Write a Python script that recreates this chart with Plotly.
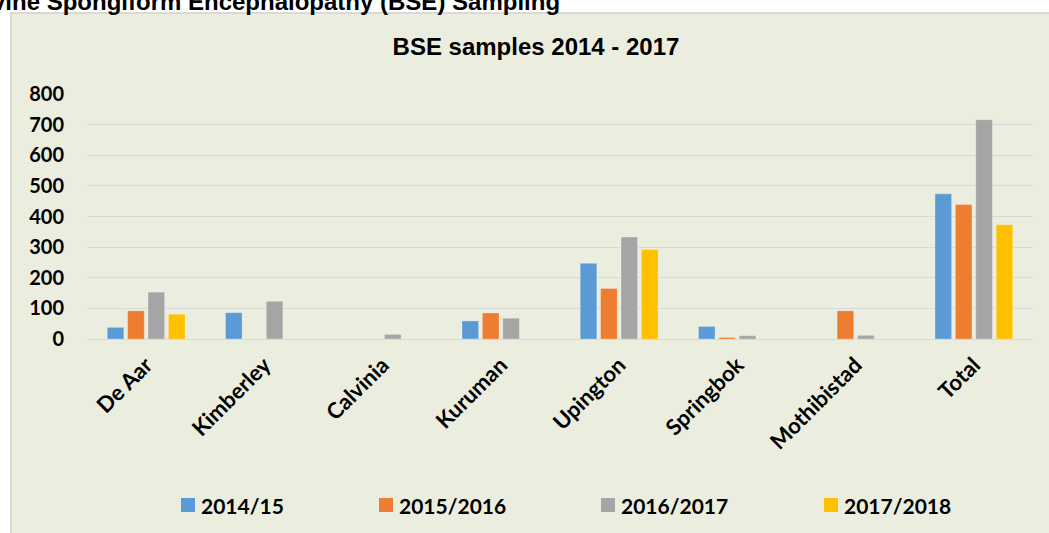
import plotly.graph_objects as go

# ---- data ----
categories = ["De Aar", "Kimberley", "Calvinia", "Kuruman", "Upington",
              "Springbok", "Mothibistad", "Total"]
series_names = ["2014/15", "2015/2016", "2016/2017", "2017/2018"]
v_2014_15 = [38, 86, None, 59, 247, 41, None, 474]
v_2015_16 = [92, None, None, 85, 165, 5, 92, 439]
v_2016_17 = [153, 123, 15, 68, 333, 11, 12, 716]
v_2017_18 = [81, None, None, None, 292, None, None, 373]
y_ticks = [0, 100, 200, 300, 400, 500, 600, 700, 800]

series_values = [v_2014_15, v_2015_16, v_2016_17, v_2017_18]
colors = ["#5B9BD5", "#ED7D31", "#A5A5A5", "#FFC000"]

# ---- layout geometry (pixels) ----
W, H = 1049, 533
L, R, T, B = 87, 1033, 94, 339


def px_x(x):
    return (x - L) / (R - L)


def px_y(y):
    return (B - y) / (B - T)


fig = go.Figure()
for name, vals, col in zip(series_names, series_values, colors):
    fig.add_trace(go.Bar(
        x=categories, y=vals, name=name, showlegend=False,
        marker=dict(color=col, line=dict(color="rgba(255,255,255,0.35)", width=0.8)),
    ))

shapes = [dict(
    type="rect", xref="paper", yref="paper", layer="below",
    x0=px_x(11), x1=px_x(1065), y0=px_y(560), y1=px_y(13),
    fillcolor="#EBEEDF", line=dict(color="#D9D9D9", width=2),
)]
annotations = [dict(
    text="<b>Bovine Spongiform Encephalopathy (BSE) Sampling</b>",
    xref="paper", yref="paper", x=px_x(562), y=px_y(17),
    xanchor="right", yanchor="bottom", showarrow=False,
    font=dict(family="Liberation Sans, Arial", size=24, color="#000000"),
)]

legend_x = [181, 379, 601, 824]
for name, col, lx in zip(series_names, colors, legend_x):
    shapes.append(dict(
        type="rect", xref="paper", yref="paper",
        x0=px_x(lx), x1=px_x(lx + 14), y0=px_y(512), y1=px_y(498),
        fillcolor=col, line=dict(width=0),
    ))
    annotations.append(dict(
        text="<b>" + name + "</b>", xref="paper", yref="paper",
        x=px_x(lx + 18), y=px_y(505), xanchor="left", yanchor="middle",
        showarrow=False, font=dict(family="Lato", size=21, color="#000000"),
    ))

fig.update_layout(
    width=W, height=H,
    margin=dict(l=L, r=W - R, t=T, b=H - B, pad=0),
    paper_bgcolor="#FFFFFF",
    plot_bgcolor="rgba(0,0,0,0)",
    barmode="group", bargap=0.31, bargroupgap=0.185,
    title=dict(
        text="<b>BSE samples 2014 - 2017</b>",
        xref="paper", x=px_x(536), xanchor="center",
        yref="container", y=1 - 47 / H, yanchor="middle",
        font=dict(family="Liberation Sans, Arial", size=24, color="#000000"),
    ),
    shapes=shapes,
    annotations=annotations,
    showlegend=False,
)
fig.update_yaxes(
    range=[0, 800], tickvals=y_ticks, showgrid=True,
    gridcolor="#D9D9D9", gridwidth=1.3,
    zeroline=True, zerolinecolor="#D9D9D9", zerolinewidth=1.3,
    showline=False, ticks="", ticklabelstandoff=22,
    tickfont=dict(family="Lato", size=20, color="#000000", weight="bold"),
)
fig.update_xaxes(
    tickangle=-45, showgrid=False, showline=False, ticks="",
    ticklabelstandoff=8,
    tickfont=dict(family="Lato", size=22, color="#000000", weight="bold"),
)

fig.write_html(
    "out.html",
    config={"displayModeBar": False},
    post_script="document.body.style.margin='0px';document.body.style.overflow='hidden';",
)
